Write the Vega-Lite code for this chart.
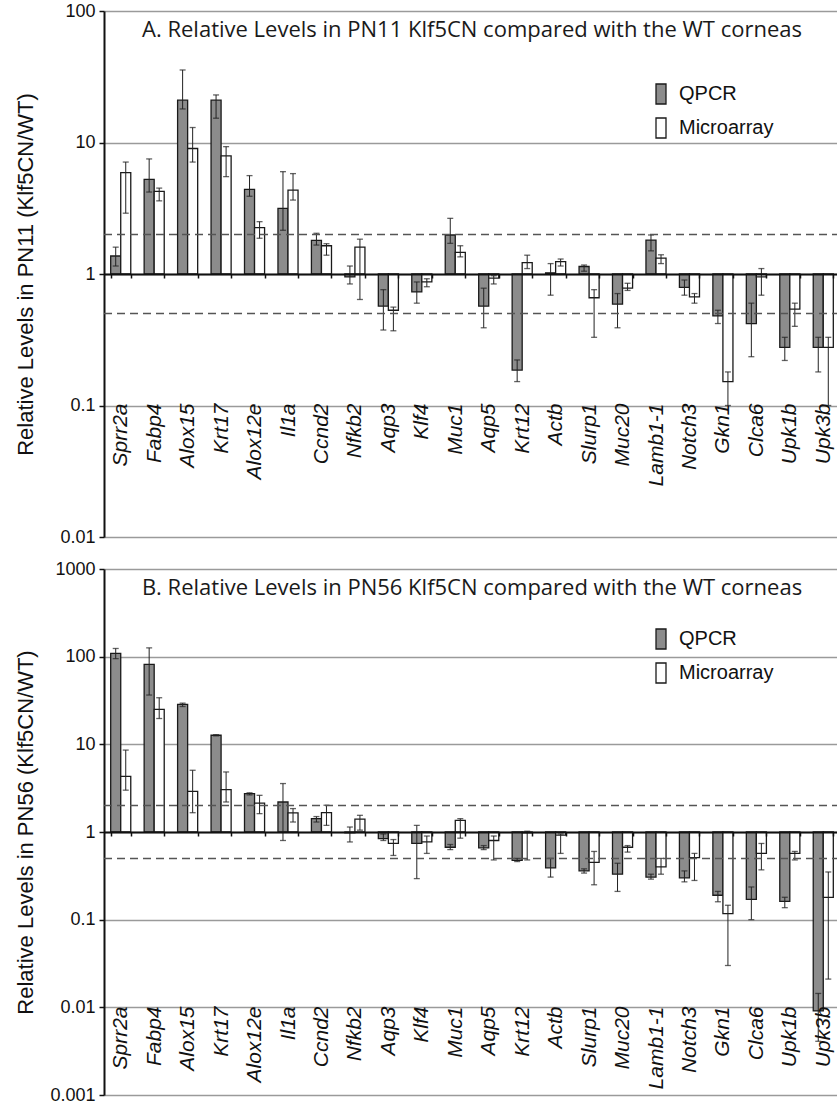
{
  "$schema": "https://vega.github.io/schema/vega-lite/v6.json",
  "background": "white",
  "padding": {"left": 13, "top": 2, "right": 0, "bottom": 0},
  "spacing": 14,
  "config": {
    "font": "Liberation Sans",
    "view": {"stroke": null},
    "title": {"font": "Open Sans", "fontSize": 22, "fontWeight": "normal", "color": "#1a1a1a"}
  },
  "datasets": {
    "pn11": [
      {"gene": "Sprr2a", "method": "QPCR", "value": 1.37, "lo": 1.15, "hi": 1.6},
      {"gene": "Sprr2a", "method": "Microarray", "value": 5.9, "lo": 2.9, "hi": 7.1},
      {"gene": "Fabp4", "method": "QPCR", "value": 5.25, "lo": 4.2, "hi": 7.5},
      {"gene": "Fabp4", "method": "Microarray", "value": 4.25, "lo": 3.6, "hi": 4.5},
      {"gene": "Alox15", "method": "QPCR", "value": 21, "lo": 18, "hi": 35.6},
      {"gene": "Alox15", "method": "Microarray", "value": 9.0, "lo": 7.1, "hi": 13},
      {"gene": "Krt17", "method": "QPCR", "value": 21, "lo": 15.3, "hi": 23},
      {"gene": "Krt17", "method": "Microarray", "value": 7.9, "lo": 5.5, "hi": 9.3},
      {"gene": "Alox12e", "method": "QPCR", "value": 4.4, "lo": 3.9, "hi": 5.6},
      {"gene": "Alox12e", "method": "Microarray", "value": 2.25, "lo": 1.87, "hi": 2.5},
      {"gene": "Il1a", "method": "QPCR", "value": 3.15, "lo": 2.15, "hi": 6.0},
      {"gene": "Il1a", "method": "Microarray", "value": 4.35, "lo": 3.65, "hi": 5.8},
      {"gene": "Ccnd2", "method": "QPCR", "value": 1.8, "lo": 1.66, "hi": 2.04},
      {"gene": "Ccnd2", "method": "Microarray", "value": 1.64, "lo": 1.39, "hi": 1.7},
      {"gene": "Nfkb2", "method": "QPCR", "value": 0.95, "lo": 0.84, "hi": 1.15},
      {"gene": "Nfkb2", "method": "Microarray", "value": 1.6, "lo": 0.64, "hi": 1.84},
      {"gene": "Aqp3", "method": "QPCR", "value": 0.57, "lo": 0.375, "hi": 0.76},
      {"gene": "Aqp3", "method": "Microarray", "value": 0.53, "lo": 0.37, "hi": 0.56},
      {"gene": "Klf4", "method": "QPCR", "value": 0.73, "lo": 0.6, "hi": 0.87},
      {"gene": "Klf4", "method": "Microarray", "value": 0.87, "lo": 0.8, "hi": 0.92},
      {"gene": "Muc1", "method": "QPCR", "value": 1.98, "lo": 1.71, "hi": 2.65},
      {"gene": "Muc1", "method": "Microarray", "value": 1.46, "lo": 1.35, "hi": 1.64},
      {"gene": "Aqp5", "method": "QPCR", "value": 0.57, "lo": 0.39, "hi": 0.78},
      {"gene": "Aqp5", "method": "Microarray", "value": 0.93, "lo": 0.84, "hi": 0.97},
      {"gene": "Krt12", "method": "QPCR", "value": 0.186, "lo": 0.152, "hi": 0.222},
      {"gene": "Krt12", "method": "Microarray", "value": 1.22, "lo": 1.1, "hi": 1.39},
      {"gene": "Actb", "method": "QPCR", "value": 1.02, "lo": 0.69, "hi": 1.2},
      {"gene": "Actb", "method": "Microarray", "value": 1.24, "lo": 1.15, "hi": 1.3},
      {"gene": "Slurp1", "method": "QPCR", "value": 1.14, "lo": 1.05, "hi": 1.17},
      {"gene": "Slurp1", "method": "Microarray", "value": 0.66, "lo": 0.33, "hi": 0.76},
      {"gene": "Muc20", "method": "QPCR", "value": 0.59, "lo": 0.39, "hi": 0.71},
      {"gene": "Muc20", "method": "Microarray", "value": 0.78, "lo": 0.75, "hi": 0.85},
      {"gene": "Lamb1-1", "method": "QPCR", "value": 1.81, "lo": 1.5, "hi": 1.98},
      {"gene": "Lamb1-1", "method": "Microarray", "value": 1.32, "lo": 1.2, "hi": 1.4},
      {"gene": "Notch3", "method": "QPCR", "value": 0.79, "lo": 0.69, "hi": 0.9},
      {"gene": "Notch3", "method": "Microarray", "value": 0.67, "lo": 0.6, "hi": 0.71},
      {"gene": "Gkn1", "method": "QPCR", "value": 0.48, "lo": 0.42, "hi": 0.53},
      {"gene": "Gkn1", "method": "Microarray", "value": 0.152, "lo": 0.1, "hi": 0.18},
      {"gene": "Clca6", "method": "QPCR", "value": 0.42, "lo": 0.235, "hi": 0.6},
      {"gene": "Clca6", "method": "Microarray", "value": 0.95, "lo": 0.69, "hi": 1.1},
      {"gene": "Upk1b", "method": "QPCR", "value": 0.277, "lo": 0.22, "hi": 0.33},
      {"gene": "Upk1b", "method": "Microarray", "value": 0.54, "lo": 0.4, "hi": 0.6},
      {"gene": "Upk3b", "method": "QPCR", "value": 0.277, "lo": 0.18, "hi": 0.33},
      {"gene": "Upk3b", "method": "Microarray", "value": 0.277, "lo": 0.1, "hi": 0.33}
    ],
    "pn56": [
      {"gene": "Sprr2a", "method": "QPCR", "value": 109, "lo": 95, "hi": 124},
      {"gene": "Sprr2a", "method": "Microarray", "value": 4.3, "lo": 3.0, "hi": 8.6},
      {"gene": "Fabp4", "method": "QPCR", "value": 81.5, "lo": 36.5, "hi": 126},
      {"gene": "Fabp4", "method": "Microarray", "value": 25, "lo": 19.7, "hi": 34},
      {"gene": "Alox15", "method": "QPCR", "value": 28.5, "lo": 27, "hi": 29.5},
      {"gene": "Alox15", "method": "Microarray", "value": 2.9, "lo": 1.66, "hi": 5.06},
      {"gene": "Krt17", "method": "QPCR", "value": 12.7, "lo": 12.5, "hi": 12.9},
      {"gene": "Krt17", "method": "Microarray", "value": 3.05, "lo": 2.2, "hi": 4.84},
      {"gene": "Alox12e", "method": "QPCR", "value": 2.74, "lo": 2.65, "hi": 2.8},
      {"gene": "Alox12e", "method": "Microarray", "value": 2.14, "lo": 1.62, "hi": 2.62},
      {"gene": "Il1a", "method": "QPCR", "value": 2.2, "lo": 0.8, "hi": 3.57},
      {"gene": "Il1a", "method": "Microarray", "value": 1.65, "lo": 1.3, "hi": 1.85},
      {"gene": "Ccnd2", "method": "QPCR", "value": 1.42, "lo": 1.3, "hi": 1.5},
      {"gene": "Ccnd2", "method": "Microarray", "value": 1.66, "lo": 1.19, "hi": 2.02},
      {"gene": "Nfkb2", "method": "QPCR", "value": 0.98, "lo": 0.77, "hi": 1.14},
      {"gene": "Nfkb2", "method": "Microarray", "value": 1.4, "lo": 1.05, "hi": 1.55},
      {"gene": "Aqp3", "method": "QPCR", "value": 0.84, "lo": 0.8, "hi": 0.95},
      {"gene": "Aqp3", "method": "Microarray", "value": 0.74, "lo": 0.54, "hi": 0.82},
      {"gene": "Klf4", "method": "QPCR", "value": 0.74, "lo": 0.294, "hi": 1.19},
      {"gene": "Klf4", "method": "Microarray", "value": 0.77, "lo": 0.57, "hi": 0.9},
      {"gene": "Muc1", "method": "QPCR", "value": 0.67, "lo": 0.63, "hi": 0.72},
      {"gene": "Muc1", "method": "Microarray", "value": 1.36, "lo": 0.85, "hi": 1.42},
      {"gene": "Aqp5", "method": "QPCR", "value": 0.66, "lo": 0.63, "hi": 0.7},
      {"gene": "Aqp5", "method": "Microarray", "value": 0.8, "lo": 0.48, "hi": 0.9},
      {"gene": "Krt12", "method": "QPCR", "value": 0.475, "lo": 0.46, "hi": 0.5},
      {"gene": "Krt12", "method": "Microarray", "value": 0.98, "lo": 0.48, "hi": 1.02},
      {"gene": "Actb", "method": "QPCR", "value": 0.39, "lo": 0.306, "hi": 0.5},
      {"gene": "Actb", "method": "Microarray", "value": 0.92, "lo": 0.57, "hi": 0.95},
      {"gene": "Slurp1", "method": "QPCR", "value": 0.36, "lo": 0.34, "hi": 0.38},
      {"gene": "Slurp1", "method": "Microarray", "value": 0.45, "lo": 0.25, "hi": 0.6},
      {"gene": "Muc20", "method": "QPCR", "value": 0.33, "lo": 0.21, "hi": 0.44},
      {"gene": "Muc20", "method": "Microarray", "value": 0.67, "lo": 0.59, "hi": 0.7},
      {"gene": "Lamb1-1", "method": "QPCR", "value": 0.306, "lo": 0.29, "hi": 0.33},
      {"gene": "Lamb1-1", "method": "Microarray", "value": 0.4, "lo": 0.33, "hi": 0.5},
      {"gene": "Notch3", "method": "QPCR", "value": 0.3, "lo": 0.27, "hi": 0.36},
      {"gene": "Notch3", "method": "Microarray", "value": 0.51, "lo": 0.28, "hi": 0.57},
      {"gene": "Gkn1", "method": "QPCR", "value": 0.19, "lo": 0.16, "hi": 0.21},
      {"gene": "Gkn1", "method": "Microarray", "value": 0.117, "lo": 0.03, "hi": 0.146},
      {"gene": "Clca6", "method": "QPCR", "value": 0.17, "lo": 0.1, "hi": 0.236},
      {"gene": "Clca6", "method": "Microarray", "value": 0.57, "lo": 0.37, "hi": 0.74},
      {"gene": "Upk1b", "method": "QPCR", "value": 0.162, "lo": 0.137, "hi": 0.18},
      {"gene": "Upk1b", "method": "Microarray", "value": 0.57, "lo": 0.48, "hi": 0.6},
      {"gene": "Upk3b", "method": "QPCR", "value": 0.0091, "lo": 0.0041, "hi": 0.0144},
      {"gene": "Upk3b", "method": "Microarray", "value": 0.18, "lo": 0.021, "hi": 0.35}
    ],
    "refs": [{"ref": 2}, {"ref": 0.5}]
  },
  "resolve": {"scale": {"x": "independent", "y": "independent", "fill": "independent"}, "legend": {"fill": "independent"}},
  "vconcat": [
    {
      "width": 736,
      "height": 526,
      "title": {"text": "A. Relative Levels in PN11 Klf5CN compared with the WT corneas", "anchor": "middle", "frame": "group", "offset": -50, "baseline": "middle"},
      "data": {"name": "pn11"},
      "layer": [
        {
          "mark": {"type": "bar", "stroke": "#1a1a1a", "strokeWidth": 1.3},
          "encoding": {
            "x": {"field": "gene", "type": "nominal", "title": null,
              "scale": {"domain": ["Sprr2a","Fabp4","Alox15","Krt17","Alox12e","Il1a","Ccnd2","Nfkb2","Aqp3","Klf4","Muc1","Aqp5","Krt12","Actb","Slurp1","Muc20","Lamb1-1","Notch3","Gkn1","Clca6","Upk1b","Upk3b"], "paddingInner": 0.4, "paddingOuter": 0.2},
              "axis": {"orient": "bottom", "offset": -263, "zindex": 1, "domainColor": "#111", "domainWidth": 2, "tickBand": "extent", "tickSize": 4, "tickColor": "#111", "tickWidth": 1.5, "labelAngle": -90, "labelAlign": "right", "labelBaseline": "middle", "labelPadding": 125, "labelFontSize": 21, "labelFontStyle": "italic", "labelColor": "#111", "labelOverlap": false, "grid": false}},
            "xOffset": {"field": "method", "type": "nominal", "scale": {"domain": ["QPCR", "Microarray"]}},
            "y": {"field": "value", "type": "quantitative", "title": "Relative Levels in PN11 (Klf5CN/WT)",
              "scale": {"type": "log", "domain": [0.01, 100], "nice": false},
              "axis": {"values": [0.01, 0.1, 1, 10, 100], "format": "~g", "grid": true, "gridColor": "#9a9a9a", "gridWidth": 1.5, "domainColor": "#111", "domainWidth": 2, "tickColor": "#111", "tickSize": 5, "tickWidth": 1.5, "labelFontSize": 18, "labelColor": "#111", "labelPadding": 4, "titleFontSize": 22, "titleFontWeight": "normal", "titleColor": "#111", "titleX": -79, "titleBaseline": "middle"}},
            "y2": {"datum": 1},
            "fill": {"field": "method", "type": "nominal",
              "scale": {"domain": ["QPCR", "Microarray"], "range": ["#8c8c8c", "#ffffff"]},
              "legend": {"orient": "none", "legendX": 546, "legendY": 72, "title": null, "padding": 0, "symbolType": "M-0.5,-1H0.5V1H-0.5Z", "symbolSize": 400, "symbolStrokeWidth": 1.3, "labelFontSize": 20, "labelColor": "#111", "labelOffset": 7, "rowPadding": 8,
                "encode": {"symbols": {"update": {"stroke": {"signal": "datum.value === 'QPCR' ? '#8c8c8c' : '#1a1a1a'"}}}}}}
          }
        },
        {
          "mark": {"type": "rule", "color": "#222", "strokeWidth": 1},
          "encoding": {
            "x": {"field": "gene", "type": "nominal", "title": null},
            "xOffset": {"field": "method", "type": "nominal"},
            "y": {"field": "lo", "type": "quantitative", "title": "Relative Levels in PN11 (Klf5CN/WT)"},
            "y2": {"field": "hi"}
          }
        },
        {
          "mark": {"type": "tick", "color": "#222", "size": 6, "thickness": 1.3},
          "encoding": {
            "x": {"field": "gene", "type": "nominal", "title": null},
            "xOffset": {"field": "method", "type": "nominal"},
            "y": {"field": "lo", "type": "quantitative", "title": "Relative Levels in PN11 (Klf5CN/WT)"}
          }
        },
        {
          "mark": {"type": "tick", "color": "#222", "size": 6, "thickness": 1.3},
          "encoding": {
            "x": {"field": "gene", "type": "nominal", "title": null},
            "xOffset": {"field": "method", "type": "nominal"},
            "y": {"field": "hi", "type": "quantitative", "title": "Relative Levels in PN11 (Klf5CN/WT)"}
          }
        },
        {
          "data": {"name": "refs"},
          "mark": {"type": "rule", "color": "#555", "strokeWidth": 1.5, "strokeDash": [8, 5]},
          "encoding": {"y": {"field": "ref", "type": "quantitative", "title": "Relative Levels in PN11 (Klf5CN/WT)"}}
        }
      ]
    },
    {
      "width": 736,
      "height": 526,
      "title": {"text": "B. Relative Levels in PN56 Klf5CN compared with the WT corneas", "anchor": "middle", "frame": "group", "offset": -50, "baseline": "middle"},
      "data": {"name": "pn56"},
      "layer": [
        {
          "mark": {"type": "bar", "stroke": "#1a1a1a", "strokeWidth": 1.3},
          "encoding": {
            "x": {"field": "gene", "type": "nominal", "title": null,
              "scale": {"domain": ["Sprr2a","Fabp4","Alox15","Krt17","Alox12e","Il1a","Ccnd2","Nfkb2","Aqp3","Klf4","Muc1","Aqp5","Krt12","Actb","Slurp1","Muc20","Lamb1-1","Notch3","Gkn1","Clca6","Upk1b","Upk3b"], "paddingInner": 0.4, "paddingOuter": 0.2},
              "axis": {"orient": "bottom", "offset": -263, "zindex": 1, "domainColor": "#111", "domainWidth": 2, "tickBand": "extent", "tickSize": 4, "tickColor": "#111", "tickWidth": 1.5, "labelAngle": -90, "labelAlign": "right", "labelBaseline": "middle", "labelPadding": 170, "labelFontSize": 21, "labelFontStyle": "italic", "labelColor": "#111", "labelOverlap": false, "grid": false}},
            "xOffset": {"field": "method", "type": "nominal", "scale": {"domain": ["QPCR", "Microarray"]}},
            "y": {"field": "value", "type": "quantitative", "title": "Relative Levels in PN56 (Klf5CN/WT)",
              "scale": {"type": "log", "domain": [0.001, 1000], "nice": false},
              "axis": {"values": [0.001, 0.01, 0.1, 1, 10, 100, 1000], "format": "~g", "grid": true, "gridColor": "#9a9a9a", "gridWidth": 1.5, "domainColor": "#111", "domainWidth": 2, "tickColor": "#111", "tickSize": 5, "tickWidth": 1.5, "labelFontSize": 18, "labelColor": "#111", "labelPadding": 4, "titleFontSize": 22, "titleFontWeight": "normal", "titleColor": "#111", "titleX": -79, "titleBaseline": "middle"}},
            "y2": {"datum": 1},
            "fill": {"field": "method", "type": "nominal",
              "scale": {"domain": ["QPCR", "Microarray"], "range": ["#8c8c8c", "#ffffff"]},
              "legend": {"orient": "none", "legendX": 546, "legendY": 59, "title": null, "padding": 0, "symbolType": "M-0.5,-1H0.5V1H-0.5Z", "symbolSize": 400, "symbolStrokeWidth": 1.3, "labelFontSize": 20, "labelColor": "#111", "labelOffset": 7, "rowPadding": 8,
                "encode": {"symbols": {"update": {"stroke": {"signal": "datum.value === 'QPCR' ? '#8c8c8c' : '#1a1a1a'"}}}}}}
          }
        },
        {
          "mark": {"type": "rule", "color": "#222", "strokeWidth": 1},
          "encoding": {
            "x": {"field": "gene", "type": "nominal", "title": null},
            "xOffset": {"field": "method", "type": "nominal"},
            "y": {"field": "lo", "type": "quantitative", "title": "Relative Levels in PN56 (Klf5CN/WT)"},
            "y2": {"field": "hi"}
          }
        },
        {
          "mark": {"type": "tick", "color": "#222", "size": 6, "thickness": 1.3},
          "encoding": {
            "x": {"field": "gene", "type": "nominal", "title": null},
            "xOffset": {"field": "method", "type": "nominal"},
            "y": {"field": "lo", "type": "quantitative", "title": "Relative Levels in PN56 (Klf5CN/WT)"}
          }
        },
        {
          "mark": {"type": "tick", "color": "#222", "size": 6, "thickness": 1.3},
          "encoding": {
            "x": {"field": "gene", "type": "nominal", "title": null},
            "xOffset": {"field": "method", "type": "nominal"},
            "y": {"field": "hi", "type": "quantitative", "title": "Relative Levels in PN56 (Klf5CN/WT)"}
          }
        },
        {
          "data": {"name": "refs"},
          "mark": {"type": "rule", "color": "#555", "strokeWidth": 1.5, "strokeDash": [8, 5]},
          "encoding": {"y": {"field": "ref", "type": "quantitative", "title": "Relative Levels in PN56 (Klf5CN/WT)"}}
        }
      ]
    }
  ]
}
